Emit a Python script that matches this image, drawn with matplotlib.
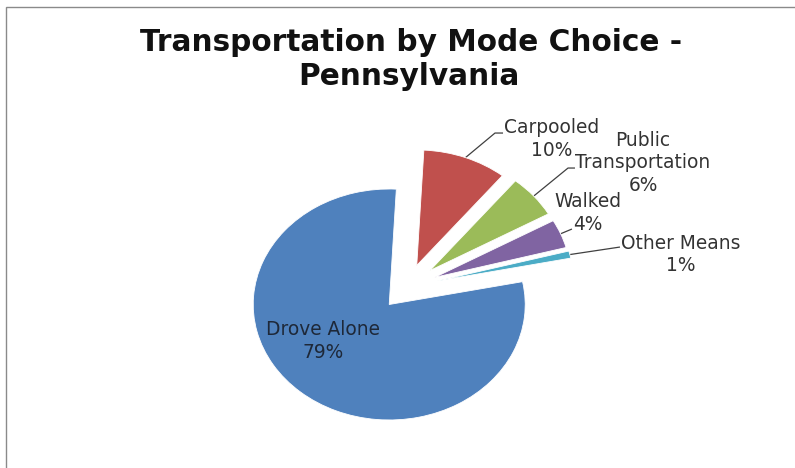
import numpy as np
import matplotlib
matplotlib.use("Agg")
import matplotlib.pyplot as plt
from matplotlib.patches import Rectangle

# Commuting mode shares, Pennsylvania (percent)
modes = ["Drove Alone", "Other Means", "Walked", "Public\nTransportation", "Carpooled"]
shares = [79, 1, 4, 6, 10]
colors = ["#4F81BD", "#4BACC6", "#8064A2", "#9BBB59", "#C0504D"]
explode = [0.20, 0.23, 0.22, 0.22, 0.20]
title_lines = ["Transportation by Mode Choice -", "Pennsylvania"]

W, H = 795, 468
fig = plt.figure(figsize=(W / 100, H / 100), dpi=100)
fig.patch.set_facecolor("white")

# chart-area border (left and top edges visible)
fig.add_artist(Rectangle((6 / W, -0.1), 1.2, (H - 7) / H + 0.1,
                         transform=fig.transFigure, fill=False,
                         edgecolor="#8a8a8a", lw=1.0))

# pie centre at (407, 287) px, radii 136 px (x) and 115.5 px (y)
cx, cy, rx, ry = 407, 287, 136, 115.5
span = 1.5
ax = fig.add_axes([(cx - span * rx) / W, (H - cy - span * ry) / H,
                   2 * span * rx / W, 2 * span * ry / H])
wedges, _ = ax.pie(shares, colors=colors, explode=explode, startangle=87,
                   counterclock=True,
                   wedgeprops=dict(linewidth=0.6, edgecolor="white"))
ax.set_xlim(-span, span)
ax.set_ylim(-span, span)
ax.set_aspect("auto")
ax.axis("off")

label_font = dict(family="DejaVu Sans", fontsize=13.4, ha="center", va="center")
pitch = 22.5 / ry   # line pitch of the data labels, in data units


def wedge_point(w, r):
    ang = np.deg2rad((w.theta1 + w.theta2) / 2)
    c = w.center
    return c[0] + r * np.cos(ang), c[1] + r * np.sin(ang)


def block_label(x, yc, lines, color):
    n = len(lines)
    for k, line in enumerate(lines):
        ax.text(x, yc + ((n - 1) / 2 - k) * pitch, line, color=color, **label_font)


# inside label for the large slice
block_label(-0.618, -0.468, [modes[0], f"{shares[0]}%"], "#1e2838")

# outside labels with leader lines: (index, text centre, leader path)
outside = [
    (4, (1.066, 1.281), [(0.647, 1.333), (0.706, 1.333)]),
    (3, (1.735, 1.076), [(1.184, 1.030), (1.235, 1.030)]),
    (2, (1.331, 0.641), [(1.213, 0.502)]),
    (1, (2.015, 0.281), [(1.566, 0.346)]),
]
for i, tpos, path in outside:
    sx, sy = wedge_point(wedges[i], 1.0)
    xs = [sx] + [p[0] for p in path]
    ys = [sy] + [p[1] for p in path]
    ax.plot(xs, ys, color="#404040", lw=0.9, clip_on=False,
            solid_capstyle="butt", zorder=0.5)
    block_label(tpos[0], tpos[1], modes[i].split("\n") + [f"{shares[i]}%"], "#333333")

# title, sized so the first line spans the chart's title width
title_font = dict(family="DejaVu Sans", fontweight="bold", color="#111111",
                  ha="center", va="baseline")
t1 = fig.text(411 / W, 1 - 51 / H, title_lines[0], fontsize=18, **title_font)
renderer = fig.canvas.get_renderer()
size = 18 * 543 / t1.get_window_extent(renderer).width
t1.set_fontsize(size)
fig.text(409 / W, 1 - 85 / H, title_lines[1], fontsize=size, **title_font)

fig.savefig("out.png", dpi=100, facecolor="white")
